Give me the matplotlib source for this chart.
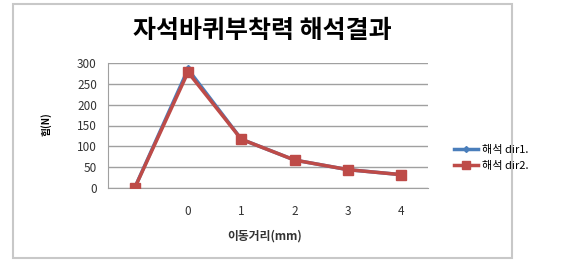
import matplotlib
matplotlib.use("Agg")
import matplotlib.pyplot as plt
from matplotlib.patches import Rectangle

plt.rcParams['font.family'] = ['Noto Sans CJK KR', 'DejaVu Sans']

categories = ["", "0", "1", "2", "3", "4"]
dir1 = [0, 285, 117, 67, 44, 32]
dir2 = [0, 278, 117, 67, 44, 32]
yticks = [0, 50, 100, 150, 200, 250, 300]

W, H = 572, 266
fig = plt.figure(figsize=(W/100, H/100), dpi=100)
fig.patches.append(Rectangle((13/W, 1-258/H), (512-13)/W, (258-4)/H,
                             transform=fig.transFigure, fill=False,
                             edgecolor='#c8c8c8', linewidth=1.5))

ax = fig.add_axes([108/W, 1-188/H, (428-108)/W, (188-63)/H])
x = list(range(len(categories)))
ax.plot(x, dir1, color='#4a7ebb', marker='D', markersize=4, linewidth=2.5,
        label='해석 dir1.', zorder=2)
ax.plot(x, dir2, color='#be4b48', marker='s', markersize=7, linewidth=2.5,
        label='해석 dir2.', zorder=3)

ax.set_xlim(-0.5, len(categories)-0.5)
ax.set_ylim(0, 300)
ax.set_yticks(yticks)
ax.set_xticks(x)
ax.set_xticklabels(categories)
ax.yaxis.grid(True, color='#a0a0a0', linewidth=1)
ax.set_axisbelow(True)
for s in ['top', 'right']:
    ax.spines[s].set_visible(False)
ax.spines['left'].set_color('#a0a0a0')
ax.spines['bottom'].set_color('#a0a0a0')
ax.tick_params(axis='both', length=0, labelsize=8.5, colors='#333333', pad=8)
ax.tick_params(axis='x', pad=12)

fig.text(262/W, 1-31/H, '자석바퀴부착력 해석결과', ha='center', va='center',
         fontsize=18, fontweight='bold')
fig.text(46/W, 1-124/H, '힘(N)', ha='center', va='center', rotation=90,
         fontsize=7, fontweight='bold')
fig.text(265/W, 1-236/H, '이동거리(mm)', ha='center', va='center',
         fontsize=8.5, fontweight='bold', color='#333333')

leg = fig.legend(loc='center left', bbox_to_anchor=(444/W, 1-158/H),
                 frameon=False, fontsize=8, handlelength=2.2, markerscale=0.75,
                 labelspacing=0.5, handletextpad=0.3)

fig.savefig('out.png', dpi=100)
